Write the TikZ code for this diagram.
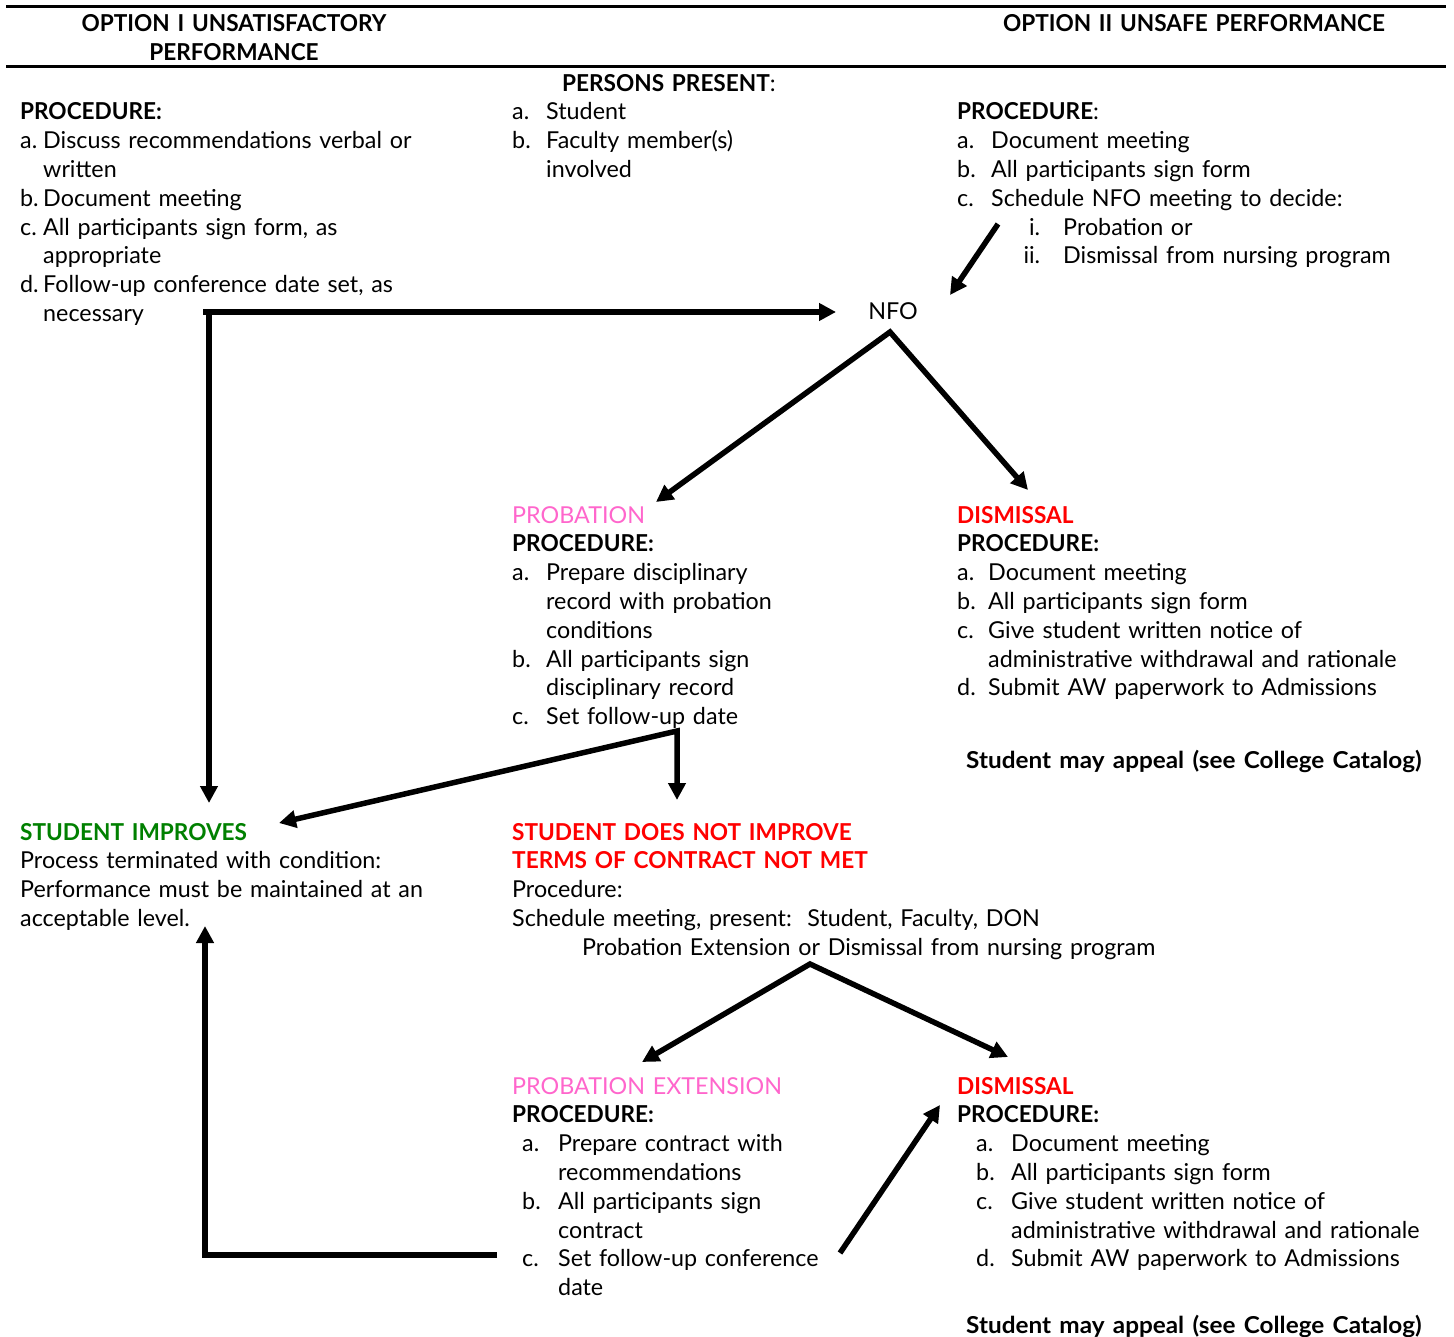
\documentclass[tikz,border=0pt]{standalone}
\usepackage{fontspec}
\setmainfont{Lato}[BoldFeatures={FakeStretch=0.97}]
\usetikzlibrary{arrows.meta}
\definecolor{pinkc}{RGB}{255,102,204}
\definecolor{redc}{RGB}{255,0,0}
\definecolor{greenc}{RGB}{0,128,0}
\newcommand{\lbl}[2]{\makebox[#1][l]{#2}}
\newcommand{\rlbl}[2]{\makebox[#1][r]{#2}}
\tikzset{
  blk/.style={anchor=base west, inner sep=0pt, text width=900pt, align=left,
    font=\fontsize{23.3}{28.8}\selectfont},
  lone/.style={anchor=base, inner sep=0pt, font=\fontsize{23.3}{28.8}\selectfont},
  hd/.style={anchor=base, inner sep=0pt, text width=480pt, align=center,
    font=\fontsize{23.3}{28.8}\selectfont\bfseries},
  arr/.style={line width=5.5pt, line join=miter, -{Triangle[length=17pt,width=17pt]}},
  darr/.style={line width=5.5pt, line join=miter, {Triangle[length=17pt,width=17pt]}-{Triangle[length=17pt,width=17pt]}},
  rulel/.style={line width=3pt},
}
\begin{document}
\begin{tikzpicture}[x=1pt,y=-1pt]
\useasboundingbox (0,0) rectangle (1454,1337);
\fill[white] (0,0) rectangle (1454,1337);

% header rules
\coordinate (r1a) at (6,7);   \coordinate (r1b) at (1446,7);
\coordinate (r2a) at (6,67);  \coordinate (r2b) at (1446,67);
\draw[rulel] (r1a) -- (r1b);
\draw[rulel] (r2a) -- (r2b);

% headers
\node[hd] (opt1) at (234,31.5) {OPTION I UNSATISFACTORY\\PERFORMANCE};
\node[hd] (opt2) at (1194,31.5) {OPTION II UNSAFE PERFORMANCE};

% Option I procedure
\node[blk] (proc1) at (20,120) {\textbf{PROCEDURE:}\\
\lbl{23pt}{a.}Discuss recommendations verbal or\\
\hspace*{23pt}written\\
\lbl{23pt}{b.}Document meeting\\
\lbl{23pt}{c.}All participants sign form, as\\
\hspace*{23pt}appropriate\\
\lbl{23pt}{d.}Follow-up conference date set, as\\
\hspace*{23pt}necessary};

% persons present
\node[blk] (pphead) at (562,92) {\textbf{PERSONS PRESENT}:};
\node[blk] (pp) at (512,120) {\lbl{34pt}{a.}Student\\
\lbl{34pt}{b.}Faculty member(s)\\
\hspace*{34pt}involved};

% Option II procedure
\node[blk] (proc2) at (957,120) {\textbf{PROCEDURE}:\\
\lbl{34pt}{a.}Document meeting\\
\lbl{34pt}{b.}All participants sign form\\
\lbl{34pt}{c.}Schedule NFO meeting to decide:\\
\rlbl{83pt}{i.}\hspace*{23pt}Probation or\\
\rlbl{83pt}{ii.}\hspace*{23pt}Dismissal from nursing program};

% NFO
\node[lone] (nfo) at (893,320) {NFO};

% Probation
\node[blk] (prob) at (512,523) {\textcolor{pinkc}{PROBATION}\\
\textbf{PROCEDURE:}\\
\lbl{34pt}{a.}Prepare disciplinary\\
\hspace*{34pt}record with probation\\
\hspace*{34pt}conditions\\
\lbl{34pt}{b.}All participants sign\\
\hspace*{34pt}disciplinary record\\
\lbl{34pt}{c.}Set follow-up date};

% Dismissal (first)
\node[blk] (dis1) at (957,523) {\textcolor{redc}{\textbf{DISMISSAL}}\\
\textbf{PROCEDURE:}\\
\lbl{31pt}{a.}Document meeting\\
\lbl{31pt}{b.}All participants sign form\\
\lbl{31pt}{c.}Give student written notice of\\
\hspace*{31pt}administrative withdrawal and rationale\\
\lbl{31pt}{d.}Submit AW paperwork to Admissions};
\node[blk] (app1) at (966,768) {\scalebox{1.075}[1]{\textbf{Student may appeal (see College Catalog)}}};

% Student improves
\node[blk] (imp) at (20,840) {\textcolor{greenc}{\textbf{STUDENT IMPROVES}}\\
Process terminated with condition:\\
Performance must be maintained at an\\
acceptable level.};

% Student does not improve
\node[blk] (notimp) at (512,840) {\textcolor{redc}{\textbf{STUDENT DOES NOT IMPROVE}}\\
\textcolor{redc}{\textbf{TERMS OF CONTRACT NOT MET}}\\
Procedure:\\
Schedule meeting, present:\ \ Student, Faculty, DON\\
\hspace*{70pt}Probation Extension or Dismissal from nursing program};

% Probation extension
\node[blk] (pext) at (512,1094) {\textcolor{pinkc}{PROBATION EXTENSION}\\
\textbf{PROCEDURE:}\\
\hspace*{10pt}\lbl{36pt}{a.}Prepare contract with\\
\hspace*{46pt}recommendations\\
\hspace*{10pt}\lbl{36pt}{b.}All participants sign\\
\hspace*{46pt}contract\\
\hspace*{10pt}\lbl{36pt}{c.}Set follow-up conference\\
\hspace*{46pt}date};

% Dismissal (second)
\node[blk] (dis2) at (957,1094) {\textcolor{redc}{\textbf{DISMISSAL}}\\
\textbf{PROCEDURE:}\\
\hspace*{19pt}\lbl{35pt}{a.}Document meeting\\
\hspace*{19pt}\lbl{35pt}{b.}All participants sign form\\
\hspace*{19pt}\lbl{35pt}{c.}Give student written notice of\\
\hspace*{54pt}administrative withdrawal and rationale\\
\hspace*{19pt}\lbl{35pt}{d.}Submit AW paperwork to Admissions};
\node[blk] (app2) at (966,1333) {\scalebox{1.075}[1]{\textbf{Student may appeal (see College Catalog)}}};

% connector points
\coordinate (c2s) at (998,224);
\coordinate (nfoTR) at (950,295);
\coordinate (loopS) at (203,312);
\coordinate (nfoL) at (836,312);
\coordinate (vS) at (209,309.25);
\coordinate (impTop) at (209,803);
\coordinate (nfoApex) at (890,332);
\coordinate (probIn) at (656,502);
\coordinate (dis1In) at (1028,490);
\coordinate (impR) at (279,823);
\coordinate (probC) at (677,731);
\coordinate (notimpTop) at (677,800);
\coordinate (nmApex) at (810,964);
\coordinate (pextIn) at (642,1062);
\coordinate (dis2In) at (1008,1057);
\coordinate (pextL) at (497,1255);
\coordinate (cornerBL) at (205,1255);
\coordinate (impBot) at (205,926);
\coordinate (pextR) at (840,1253);
\coordinate (dis2L) at (940,1105);

% connectors
\draw[arr] (c2s) -- (nfoTR);
\draw[arr] (loopS) -- (nfoL);
\draw[arr] (vS) -- (impTop);
\draw[darr] (probIn) -- (nfoApex) -- (dis1In);
\draw[darr] (impR) -- (probC) -- (notimpTop);
\draw[darr] (pextIn) -- (nmApex) -- (dis2In);
\draw[arr] (pextL) -- (cornerBL) -- (impBot);
\draw[arr] (pextR) -- (dis2L);
\end{tikzpicture}
\end{document}
